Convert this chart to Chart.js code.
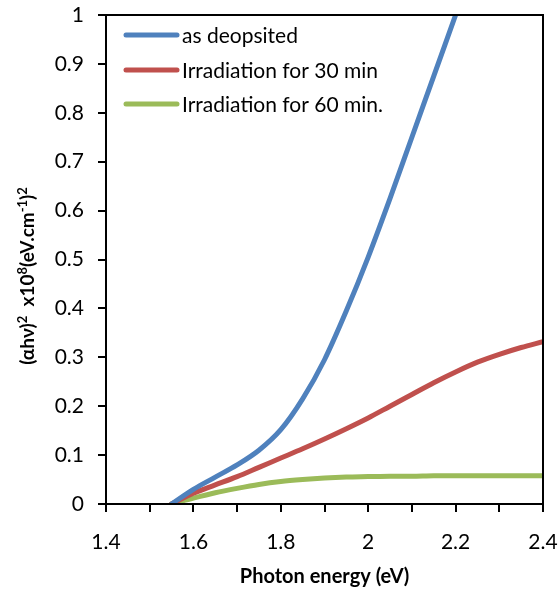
<!DOCTYPE html>
<html>
<head>
<meta charset="utf-8">
<script src="https://cdn.jsdelivr.net/npm/chart.js@4/dist/chart.umd.min.js"></script>
<style>
    html, body { margin: 0; padding: 0; background: #fff; }
    #wrap { width: 560px; height: 589px; position: relative; }
</style>
</head>
<body>
<div id="wrap"><canvas id="taucChart"></canvas></div>
<script>
// photon energy (eV) for each sample
const energy = [1.55, 1.6, 1.65, 1.7, 1.75, 1.8, 1.85, 1.9, 1.95, 2.0, 2.05, 2.1, 2.15, 2.2, 2.25, 2.3, 2.35, 2.4];
// (αhν)² x10⁸ values
const asDeposited = [0, 0.030, 0.055, 0.080, 0.110, 0.152, 0.215, 0.295, 0.395, 0.505, 0.625, 0.750, 0.875, 1.0];
const irr30 = [0, 0.022, 0.039, 0.056, 0.075, 0.094, 0.113, 0.133, 0.154, 0.176, 0.200, 0.224, 0.248, 0.270, 0.290, 0.306, 0.320, 0.332];
const irr60 = [0, 0.012, 0.023, 0.032, 0.040, 0.046, 0.050, 0.053, 0.055, 0.056, 0.057, 0.057, 0.058, 0.058, 0.058, 0.058, 0.058, 0.058];

const seriesLabels = ['as deopsited', 'Irradiation for 30 min', 'Irradiation for 60 min.'];
const seriesColors = ['#4F81BD', '#C0504D', '#9BBB59'];

const xTicks = [1.4, 1.6, 1.8, 2, 2.2, 2.4];
const yTicks = [0, 0.1, 0.2, 0.3, 0.4, 0.5, 0.6, 0.7, 0.8, 0.9, 1];

// y title pieces: [text, superscript?]
const yTitleParts = [['(αhν)', false], ['2', true], ['  x10', false], ['8', true], ['(eV.cm', false], ['-1', true], [')', false], ['2', true]];

const FONT = 'Lato, "Open Sans", sans-serif';

function toPoints(values) {
    return values.map((v, i) => ({ x: energy[i], y: v }));
}

// מסגרת, מקרא וכותרת ציר y
const decorations = {
    id: 'decorations',
    afterDraw(chart) {
        const { ctx, chartArea: a } = chart;
        ctx.save();
        ctx.strokeStyle = '#000';
        ctx.lineWidth = 2;
        ctx.strokeRect(a.left, a.top, a.right - a.left, a.bottom - a.top);

        // legend inside the plot
        ctx.font = '21px ' + FONT;
        ctx.textBaseline = 'middle';
        ctx.fillStyle = '#000';
        ctx.lineCap = 'round';
        const rows = [35, 70, 104];
        chart.data.datasets.forEach((ds, i) => {
            ctx.strokeStyle = ds.borderColor;
            ctx.lineWidth = 5;
            ctx.beginPath();
            ctx.moveTo(126, rows[i]);
            ctx.lineTo(177, rows[i]);
            ctx.stroke();
            ctx.fillText(ds.label, 182, rows[i] + 1);
        });

        // rotated y title with real superscripts
        const base = 'bold 19px ' + FONT;
        const sup = 'bold 13px ' + FONT;
        let total = 0;
        yTitleParts.forEach(([t, s]) => { ctx.font = s ? sup : base; total += ctx.measureText(t).width; });
        ctx.translate(28, 276);
        ctx.rotate(-Math.PI / 2);
        ctx.textBaseline = 'alphabetic';
        let x = -total / 2;
        yTitleParts.forEach(([t, s]) => {
            ctx.font = s ? sup : base;
            ctx.fillText(t, x, s ? -1 : 6);
            x += ctx.measureText(t).width;
        });
        ctx.restore();
    }
};

const ctx = document.getElementById('taucChart').getContext('2d');
const chart = new Chart(ctx, {
    type: 'line',
    data: {
        datasets: [asDeposited, irr30, irr60].map((vals, i) => ({
            label: seriesLabels[i],
            data: toPoints(vals),
            borderColor: seriesColors[i],
            backgroundColor: seriesColors[i],
            borderWidth: 5,
            borderCapStyle: 'round',
            pointRadius: 0,
            cubicInterpolationMode: 'monotone',
            fill: false
        }))
    },
    options: {
        responsive: true,
        maintainAspectRatio: false,
        animation: false,
        layout: { padding: { top: 15, right: 17, left: 0, bottom: 0 } },
        plugins: {
            legend: { display: false },
            tooltip: { enabled: false }
        },
        scales: {
            x: {
                type: 'linear',
                min: 1.4,
                max: 2.4,
                afterFit(scale) {
                    scale.height = 85;
                    scale.paddingLeft = 0;
                    scale.paddingRight = 0;
                },
                ticks: {
                    stepSize: 0.1,
                    padding: 18,
                    maxRotation: 0,
                    color: '#000',
                    font: { family: FONT, size: 21 },
                    callback(v) {
                        const r = Math.round(v * 10) / 10;
                        return xTicks.some(t => Math.abs(t - r) < 1e-6) ? String(r) : '';
                    }
                },
                grid: { drawOnChartArea: false, drawTicks: true, tickLength: 8, color: '#000', lineWidth: 2 },
                border: { color: '#000', width: 2 },
                title: {
                    display: true,
                    text: 'Photon energy (eV)',
                    color: '#000',
                    font: { family: FONT, size: 20, weight: 'bold' },
                    padding: { top: 0, bottom: 0 }
                }
            },
            y: {
                min: 0,
                max: 1,
                afterFit(scale) {
                    scale.width = 106;
                    scale.paddingTop = 0;
                    scale.paddingBottom = 0;
                },
                ticks: {
                    stepSize: 0.05,
                    padding: 14,
                    color: '#000',
                    font: { family: FONT, size: 21 },
                    callback(v) {
                        const r = Math.round(v * 100) / 100;
                        return yTicks.some(t => Math.abs(t - r) < 1e-6) ? String(r) : '';
                    }
                },
                grid: { drawOnChartArea: false, drawTicks: true, tickLength: 8, color: '#000', lineWidth: 2 },
                border: { color: '#000', width: 2 }
            }
        }
    },
    plugins: [decorations]
});
</script>
</body>
</html>
